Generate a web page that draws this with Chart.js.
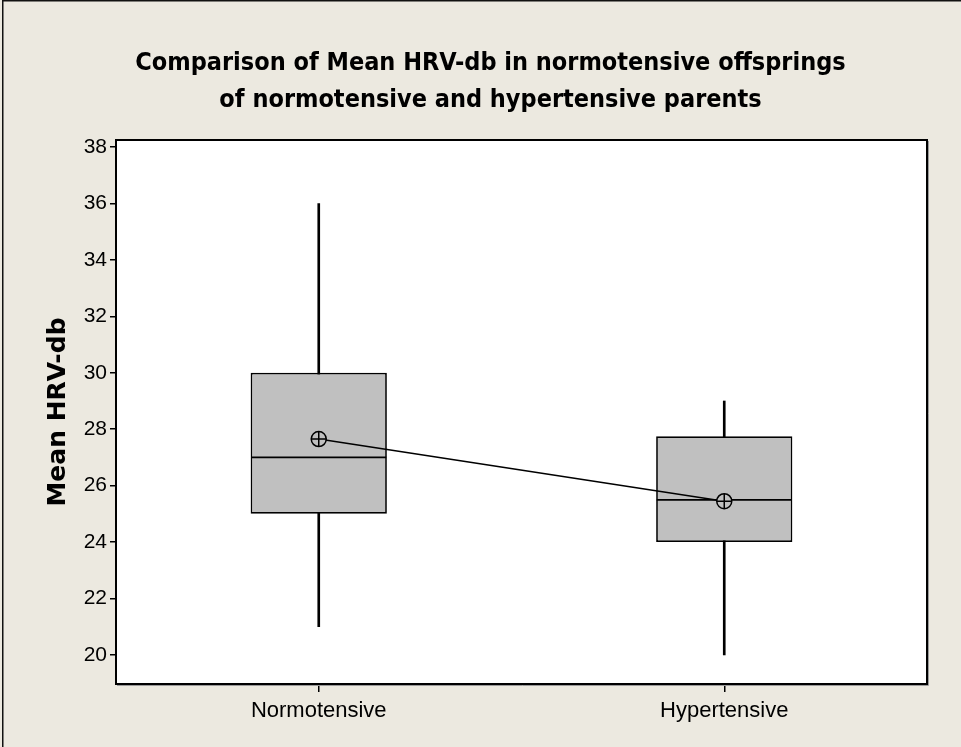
<!DOCTYPE html>
<html>
<head>
<meta charset="utf-8">
<script src="https://cdn.jsdelivr.net/npm/chart.js@4.4.1/dist/chart.umd.min.js"></script>
<style>
  html, body { margin: 0; padding: 0; background: #ece9e0; }
  canvas { display: block; }
</style>
</head>
<body>
<canvas id="c" width="961" height="747"></canvas>
<script>
// ---- data ----
const categories = ['Normotensive', 'Hypertensive'];
const whiskerLow  = [21, 20];
const q1          = [25, 24];
const medians     = [27, 25.5];
const q3          = [30, 27.75];
const whiskerHigh = [36, 29];
const means       = [27.65, 25.45];
const yTicks      = [20, 22, 24, 26, 28, 30, 32, 34, 36, 38];

const titleLines = ['Comparison of Mean HRV-db in normotensive offsprings',
                    'of normotensive and hypertensive parents'];
const yTitle = 'Mean HRV-db';

const BG = '#ece9e0';
const BOX = '#c0c0c0';
const condensed = "'DejaVu Sans Condensed', 'Liberation Sans Narrow', 'Liberation Sans', Arial, sans-serif";
const sans = "'Liberation Sans', Arial, sans-serif";

const backgroundPlugin = {
  id: 'bg',
  beforeDraw(chart) {
    const {ctx, chartArea: a, width, height} = chart;
    ctx.save();
    ctx.fillStyle = BG;
    ctx.fillRect(0, 0, width, height);
    ctx.fillStyle = '#ffffff';
    ctx.fillRect(a.left, a.top, a.right - a.left, a.bottom - a.top);
    ctx.restore();
  },
  afterDraw(chart) {
    const {ctx, chartArea: a, width, height} = chart;
    ctx.save();
    ctx.strokeStyle = '#000';
    ctx.lineWidth = 2;
    ctx.strokeRect(a.left, a.top, a.right - a.left, a.bottom - a.top);
    ctx.strokeStyle = '#9a9a9a';
    ctx.lineWidth = 1;
    ctx.beginPath();
    ctx.moveTo(a.right + 1.5, a.top + 1);
    ctx.lineTo(a.right + 1.5, a.bottom + 1.5);
    ctx.lineTo(a.left + 1, a.bottom + 1.5);
    ctx.stroke();
    ctx.strokeStyle = '#111';
    ctx.lineWidth = 1.5;
    ctx.beginPath();
    ctx.moveTo(width, 0.75);
    ctx.lineTo(2.75, 0.75);
    ctx.lineTo(2.75, height);
    ctx.stroke();
    ctx.restore();
  }
};

new Chart(document.getElementById('c'), {
  data: {
    labels: categories,
    datasets: [
      {
        type: 'line',
        label: 'mean cross',
        data: means,
        showLine: false,
        pointStyle: 'cross',
        pointRadius: 7.5,
        borderColor: '#000',
        borderWidth: 1.5,
        order: 0
      },
      {
        type: 'line',
        label: 'mean',
        data: means,
        borderColor: '#000',
        borderWidth: 1.5,
        pointStyle: 'circle',
        pointRadius: 7.5,
        pointBackgroundColor: BOX,
        pointBorderColor: '#000',
        pointBorderWidth: 1.5,
        fill: false,
        tension: 0,
        order: 1
      },
      {
        type: 'line',
        label: 'median',
        data: medians,
        showLine: false,
        pointStyle: 'line',
        pointRadius: 67.5,
        borderColor: '#000',
        borderWidth: 1.75,
        order: 2
      },
      {
        type: 'bar',
        label: 'box',
        data: q1.map((v, i) => [v, q3[i]]),
        backgroundColor: BOX,
        borderColor: '#000',
        borderWidth: 1.75,
        borderSkipped: false,
        grouped: false,
        categoryPercentage: 1,
        barPercentage: 0.336,
        order: 3
      },
      {
        type: 'bar',
        label: 'whisker',
        data: whiskerLow.map((v, i) => [v, whiskerHigh[i]]),
        backgroundColor: '#000',
        borderWidth: 0,
        grouped: false,
        barThickness: 2,
        order: 4
      }
    ]
  },
  options: {
    responsive: false,
    animation: false,
    events: [],
    layout: { autoPadding: false, padding: { left: 54, right: 34, top: 0, bottom: 0 } },
    plugins: {
      legend: { display: false },
      tooltip: { enabled: false },
      title: {
        display: true,
        text: titleLines,
        color: '#000',
        font: { family: condensed, size: 25, weight: 'bold', lineHeight: '37px' },
        padding: { top: 45, bottom: 21 }
      }
    },
    scales: {
      x: {
        type: 'category',
        offset: true,
        grid: { display: true, drawOnChartArea: false, offset: false, tickLength: 8, color: '#000', lineWidth: 1.5 },
        border: { display: true, color: '#000', width: 2 },
        ticks: { color: '#000', font: { family: sans, size: 22 }, padding: 6, maxRotation: 0 },
        afterFit(s) { s.height = 63; s.paddingLeft = 0; s.paddingRight = 0; s.paddingTop = 0; s.paddingBottom = 0; }
      },
      y: {
        type: 'linear',
        min: 18.97,
        max: 38.25,
        afterBuildTicks(s) { s.ticks = yTicks.map(v => ({ value: v })); },
        ticks: { color: '#000', font: { family: sans, size: 21 }, padding: 3, includeBounds: false },
        grid: { display: true, drawOnChartArea: false, tickLength: 6, color: '#000', lineWidth: 1.5 },
        border: { display: true, color: '#000', width: 2 },
        title: {
          display: true,
          text: yTitle,
          color: '#000',
          font: { family: "'DejaVu Sans', Verdana, sans-serif", size: 25, weight: 'bold', lineHeight: 1.2 },
          padding: { top: -11, bottom: 0 }
        },
        afterFit(s) { s.width = 62; s.paddingTop = 0; s.paddingBottom = 0; s.paddingLeft = 0; s.paddingRight = 0; }
      }
    }
  },
  plugins: [backgroundPlugin]
});
</script>
</body>
</html>
